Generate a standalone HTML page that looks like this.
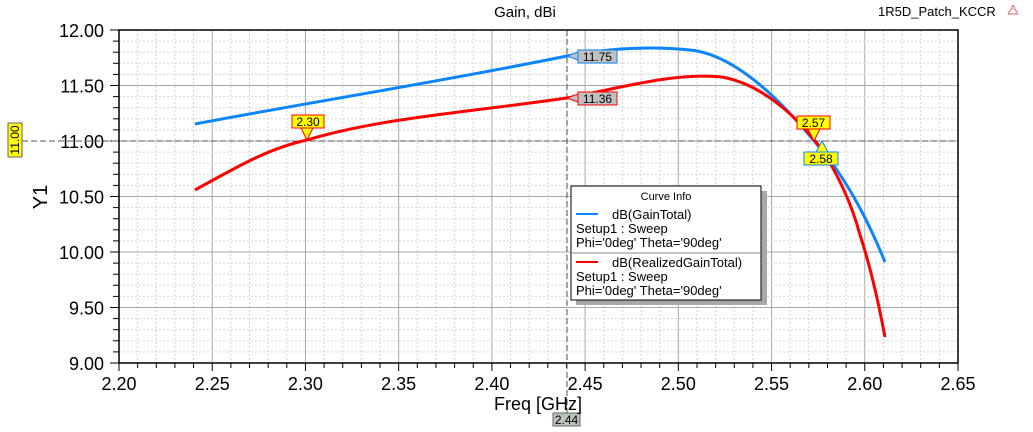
<!DOCTYPE html>
<html><head><meta charset="utf-8"><style>
html,body{margin:0;padding:0;background:#fff;}
svg{display:block;font-family:"Liberation Sans",Arial,sans-serif;}
</style></head><body>
<svg width="1033" height="432" viewBox="0 0 1033 432" xmlns="http://www.w3.org/2000/svg">
<rect width="1033" height="432" fill="#fff"/>
<g id="grid"></g>
<text x="525" y="17" font-size="15" text-anchor="middle" fill="#000">Gain, dBi</text>
<text x="878" y="16" font-size="13" fill="#000">1R5D_Patch_KCCR</text>
<polygon points="1013,6 1008,14 1018,14" fill="none" stroke="#c33" stroke-width="1.5" stroke-dasharray="1,1"/>
<script>
(function(){
var ns="http://www.w3.org/2000/svg",g=document.getElementById('grid');
function X(f){return 119+(f-2.2)/0.45*839;}
function Y(v){return 30+(12-v)/3*333;}
function el(t,a,txt){var e=document.createElementNS(ns,t);for(var k in a)e.setAttribute(k,a[k]);if(txt!=null)e.textContent=txt;g.appendChild(e);return e;}
for(var i=0;i<=45;i++){var x=X(2.2+i*0.01);var maj=i%5==0;
 if(i>0&&i<45)el('line',{x1:x,y1:30,x2:x,y2:363,stroke:maj?'#a8a8a8':'#d4cfd8','stroke-width':1,'stroke-dasharray':maj?'':'2,2'});
 el('line',{x1:x,y1:363,x2:x,y2:maj?371:368,stroke:'#000'});
 if(maj)el('text',{x:x,y:390,'font-size':18,'text-anchor':'middle'},(2.2+i*0.01).toFixed(2));}
for(var j=0;j<=30;j++){var v=9+j*0.1,y=Y(v),maj=j%5==0;
 if(j>0&&j<30)el('line',{x1:119,y1:y,x2:958,y2:y,stroke:maj?'#a8a8a8':'#d4d8cf','stroke-width':1,'stroke-dasharray':maj?'':'2,2'});
 el('line',{x1:maj?110:113,y1:y,x2:119,y2:y,stroke:'#000'});
 if(maj)el('text',{x:104,y:y+7,'font-size':18,'text-anchor':'end'},v.toFixed(2));}
el('rect',{x:119,y:30,width:839,height:333,fill:'none',stroke:'#000','stroke-width':1.5});
el('line',{x1:567,y1:30,x2:567,y2:413,stroke:'#555','stroke-dasharray':'6,3'});
el('line',{x1:22,y1:141,x2:958,y2:141,stroke:'#555','stroke-dasharray':'6,3'});
el('path',{d:'M195,124 C300,104 450,80 567,56 C610,48 650,46 690,50 C740,55 790,110 828,158 C850,186 870,225 885,262',fill:'none',stroke:'#0a84ff','stroke-width':3});
el('path',{d:'M195,190 C240,165 270,148 307,140 C380,118 470,112 567,98 C620,88 675,72 722,77 C765,85 800,120 822,150 C840,178 852,205 860,235 C870,265 878,300 885,337',fill:'none',stroke:'#ff0000','stroke-width':3});
el('rect',{x:576,y:191,width:191,height:114,fill:'#a8a8a8'});
el('rect',{x:571,y:186,width:190,height:114,fill:'#fff',stroke:'#000'});
el('text',{x:666,y:200,'font-size':11,'text-anchor':'middle'},'Curve Info');
el('line',{x1:576,y1:214,x2:598,y2:214,stroke:'#0a84ff','stroke-width':2});
el('text',{x:612,y:219,'font-size':13},'dB(GainTotal)');
el('text',{x:576,y:233,'font-size':13},'Setup1 : Sweep');
el('text',{x:576,y:247,'font-size':13},"Phi='0deg' Theta='90deg'");
el('line',{x1:571,y1:253,x2:761,y2:253,stroke:'#888'});
el('line',{x1:576,y1:262,x2:598,y2:262,stroke:'#ff0000','stroke-width':2});
el('text',{x:612,y:267,'font-size':13},'dB(RealizedGainTotal)');
el('text',{x:576,y:281,'font-size':13},'Setup1 : Sweep');
el('text',{x:576,y:295,'font-size':13},"Phi='0deg' Theta='90deg'");
function lab(x,y,w,t,fill,st){el('rect',{x:x,y:y,width:w,height:13,fill:fill,stroke:st});el('text',{x:x+w/2,y:y+11,'font-size':12,'text-anchor':'middle'},t);}
el('polygon',{points:'567,56 578,52 578,60',fill:'#c0c0c0',stroke:'#0a84ff'});
lab(578,50,39,'11.75','#c0c0c0','#0a84ff');
el('polygon',{points:'567,98 578,94 578,102',fill:'#c0c0c0',stroke:'#ff0000'});
lab(578,92,39,'11.36','#c0c0c0','#ff0000');
el('polygon',{points:'301,128 313,128 307,140',fill:'#ffff00',stroke:'#ff0000'});
lab(292,115,32,'2.30','#ffff00','#ff0000');
el('polygon',{points:'808,129 820,129 814,141',fill:'#ffff00',stroke:'#ff0000'});
lab(797,116,33,'2.57','#ffff00','#ff0000');
el('polygon',{points:'816,152 828,152 822,141',fill:'#ffff00',stroke:'#0a84ff'});
lab(804,152,34,'2.58','#ffff00','#0a84ff');
lab(553,413,27,'2.44','#b8c4b8','#666');
el('rect',{x:8,y:123,width:14,height:34,fill:'#ffff00',stroke:'#666'});
el('text',{x:0,y:0,'font-size':12,'text-anchor':'middle',transform:'translate(19,140) rotate(-90)'},'11.00');
el('text',{x:0,y:0,'font-size':20,'text-anchor':'middle',transform:'translate(47,197) rotate(-90)'},'Y1');
el('text',{x:538,y:410,'font-size':18,'text-anchor':'middle'},'Freq [GHz]');
})();
</script>
</svg>
</body></html>
